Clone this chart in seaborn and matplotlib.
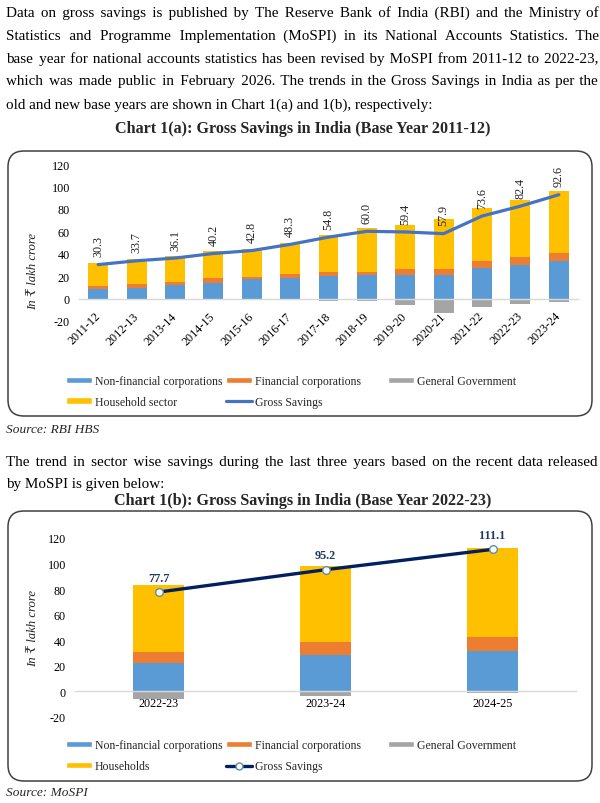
import numpy as np
import matplotlib
matplotlib.use('Agg')
import matplotlib.pyplot as plt
import seaborn as sns
from matplotlib.patches import FancyBboxPatch, Patch
from matplotlib.lines import Line2D
from matplotlib.transforms import IdentityTransform

# Chart 1(a): base year 2011-12 (RBI HBS), in Rs lakh crore
years_a = ['2011-12', '2012-13', '2013-14', '2014-15', '2015-16', '2016-17', '2017-18',
           '2018-19', '2019-20', '2020-21', '2021-22', '2022-23', '2023-24']
nfc_a = [8.3, 9.8, 12.2, 14.3, 17.3, 18.5, 20.2, 20.8, 21.4, 21.1, 27.7, 30.0, 33.3]
fc_a = [3.0, 3.0, 2.7, 3.6, 2.0, 3.2, 3.6, 3.0, 5.4, 5.1, 5.6, 7.2, 7.5]
hh_a = [20.2, 22.2, 23.1, 24.4, 24.5, 27.6, 33.0, 39.0, 38.7, 45.2, 47.7, 50.9, 55.0]
gg_a = [-1.2, -1.3, -1.5, -1.5, -1.2, -1.2, -2.0, -2.5, -5.4, -13.1, -7.1, -5.0, -3.0]
gross_a = [30.3, 33.7, 36.1, 40.2, 42.8, 48.3, 54.8, 60.0, 59.4, 57.9, 73.6, 82.4, 92.6]

# Chart 1(b): base year 2022-23 (MoSPI)
years_b = ['2022-23', '2023-24', '2024-25']
nfc_b = [22.4, 28.4, 31.8]
fc_b = [8.4, 10.2, 11.0]
hh_b = [52.4, 59.8, 69.1]
gg_b = [-6.0, -3.4, -1.3]
gross_b = [77.7, 95.2, 111.1]

para1 = [
    "Data on gross savings is published by The Reserve Bank of India (RBI) and the Ministry of",
    "Statistics and Programme Implementation (MoSPI) in its National Accounts Statistics. The",
    "base year for national accounts statistics has been revised by MoSPI from 2011-12 to 2022-23,",
    "which was made public in February 2026.  The trends in the Gross Savings in India as per the",
    "old and new base years are shown in Chart 1(a) and 1(b), respectively:",
]
para2 = [
    "The trend in sector wise savings during the last three years based on the recent data released",
    "by MoSPI is given below:",
]

C_NFC = '#5B9BD5'
C_FC = '#ED7D31'
C_GG = '#A5A5A5'
C_HH = '#FFC000'

sns.set_theme(style='white')
plt.rcParams['font.family'] = ['Liberation Serif', 'DejaVu Serif', 'DejaVu Sans']
plt.rcParams['axes.unicode_minus'] = False

W, H = 600, 804
fig = plt.figure(figsize=(W / 100, H / 100), dpi=100)
renderer = fig.canvas.get_renderer()
HAIR = '\u200a'


def fy(y):
    return 1 - y / H


def width_of(t):
    return t.get_window_extent(renderer).width


def put_line(text, y, justify=True, x0=6, x1=598, size=10.9):
    t = fig.text(x0 / W, fy(y), text, fontsize=size, va='baseline', color='black')
    if not justify:
        return
    # stretch the gaps with hair spaces so the line fills the column
    words = text.split()
    t.set_text(' '.join(words))
    w0 = width_of(t)
    t.set_text('a' + HAIR * 20 + 'a')
    w20 = width_of(t)
    t.set_text('aa')
    hair = (w20 - width_of(t)) / 20
    n_gap = len(words) - 1
    k = max(0, int(round((x1 - x0 - w0) / hair)))
    parts = [words[0]]
    for g in range(n_gap):
        extra = k // n_gap + (1 if g < k % n_gap else 0)
        parts.append(' ' + HAIR * extra + words[g + 1])
    t.set_text(''.join(parts))


for i, line in enumerate(para1):
    put_line(line, 16.5 + i * 23, justify=(i < len(para1) - 1))
for i, line in enumerate(para2):
    put_line(line, 466.5 + i * 22, justify=(i == 0))

fig.text(303 / W, fy(133), 'Chart 1(a): Gross Savings in India (Base Year 2011-12)',
         fontsize=11.6, fontweight='bold', ha='center', va='baseline')
fig.text(303 / W, fy(505.5), 'Chart 1(b): Gross Savings in India (Base Year 2022-23)',
         fontsize=11.6, fontweight='bold', ha='center', va='baseline')

# rounded frames
for top, bottom in [(152, 417), (512, 782)]:
    fig.patches.append(FancyBboxPatch((8, H - bottom), 584, bottom - top,
                                      boxstyle='round,pad=0,rounding_size=16',
                                      transform=IdentityTransform(), facecolor='none',
                                      edgecolor='#404040', linewidth=1.1))

fig.text(6 / W, fy(433.5), 'Source: RBI HBS', fontsize=9.6, style='italic', va='baseline')
fig.text(6 / W, fy(796.5), 'Source: MoSPI', fontsize=9.6, style='italic', va='baseline')


def stacked(ax, years, nfc, fc, hh, gg, width):
    nfc = np.array(nfc)
    fc = np.array(fc)
    hh = np.array(hh)
    # tallest cumulative first, shorter ones painted over it
    for vals, col in [(nfc + fc + hh, C_HH), (nfc + fc, C_FC), (nfc, C_NFC), (np.array(gg), C_GG)]:
        sns.barplot(x=years, y=vals, color=col, width=width, saturation=1,
                    linewidth=0, errorbar=None, ax=ax)


def style_axis(ax):
    ax.set_ylim(-20, 120)
    ax.set_yticks(range(-20, 121, 20))
    ax.set_xlabel('')
    ax.set_ylabel('')
    for s in ['left', 'right', 'top']:
        ax.spines[s].set_visible(False)
    ax.spines['bottom'].set_position(('data', 0))
    ax.spines['bottom'].set_color('#D9D9D9')
    ax.spines['bottom'].set_linewidth(1)
    ax.tick_params(axis='both', length=0, labelsize=8.7, colors='black')
    ax.tick_params(axis='y', pad=6.5)
    ax.set_facecolor('none')


# ---- Chart 1(a)
ax1 = fig.add_axes([79 / W, fy(322), 499 / W, 157 / H])
stacked(ax1, years_a, nfc_a, fc_a, hh_a, gg_a, 0.52)
sns.lineplot(x=np.arange(len(gross_a)), y=gross_a, color='#4472C4', linewidth=2.3, ax=ax1)
for i, v in enumerate(gross_a):
    ax1.annotate(f'{v:.1f}', (i, v), xytext=(0, 6), textcoords='offset points',
                 rotation=90, ha='center', va='bottom', fontsize=8.7, color='#222222')
style_axis(ax1)
ax1.set_xlim(-0.5, len(years_a) - 0.5)
ax1.tick_params(axis='x', pad=11)
for lab in ax1.get_xticklabels():
    lab.set_rotation(45)
    lab.set_ha('right')
    lab.set_va('center')
    lab.set_rotation_mode('anchor')

# ---- Chart 1(b)
ax2 = fig.add_axes([75 / W, fy(718), 501 / W, 179 / H])
stacked(ax2, years_b, nfc_b, fc_b, hh_b, gg_b, 0.3)
sns.lineplot(x=np.arange(len(gross_b)), y=gross_b, color='#002060', linewidth=2.4,
             marker='o', markersize=5.5, markerfacecolor='white', markeredgecolor='#5B8FA8',
             markeredgewidth=1, ax=ax2)
for i, v in enumerate(gross_b):
    ax2.annotate(f'{v:.1f}', (i, v), xytext=(0, 6), textcoords='offset points',
                 ha='center', va='bottom', fontsize=8.7, fontweight='bold', color='#1F3864')
style_axis(ax2)
ax2.set_xlim(-0.5, len(years_b) - 0.5)
ax2.tick_params(axis='x', pad=4)

for yc in [271.5, 628.5]:
    fig.text(33 / W, fy(yc), 'In ₹ lakh crore', rotation=90, ha='center', va='center',
             fontsize=9.2, style='italic')


# ---- legends (one per column, placed like the reference)
def legends(row1, hh_label, line_handle):
    cols = [
        [Patch(facecolor=C_NFC, label='Non-financial corporations'), Patch(facecolor=C_HH, label=hh_label)],
        [Patch(facecolor=C_FC, label='Financial corporations'), line_handle],
        [Patch(facecolor=C_GG, label='General Government')],
    ]
    for x, handles in zip([66, 226, 388], cols):
        fig.legend(handles=handles, loc='upper left', bbox_to_anchor=(x / W, fy(row1 - 7)),
                   frameon=False, fontsize=8.5, borderpad=0, borderaxespad=0,
                   handlelength=2.2, handleheight=0.45, handletextpad=0.25, labelspacing=0.75)


legends(383, 'Household sector',
        Line2D([], [], color='#4472C4', linewidth=2.3, label='Gross Savings'))
legends(747.5, 'Households',
        Line2D([], [], color='#002060', linewidth=2.4, marker='o', markersize=5,
               markerfacecolor='white', markeredgecolor='#5B8FA8', label='Gross Savings'))

fig.savefig('out.png', dpi=100)
